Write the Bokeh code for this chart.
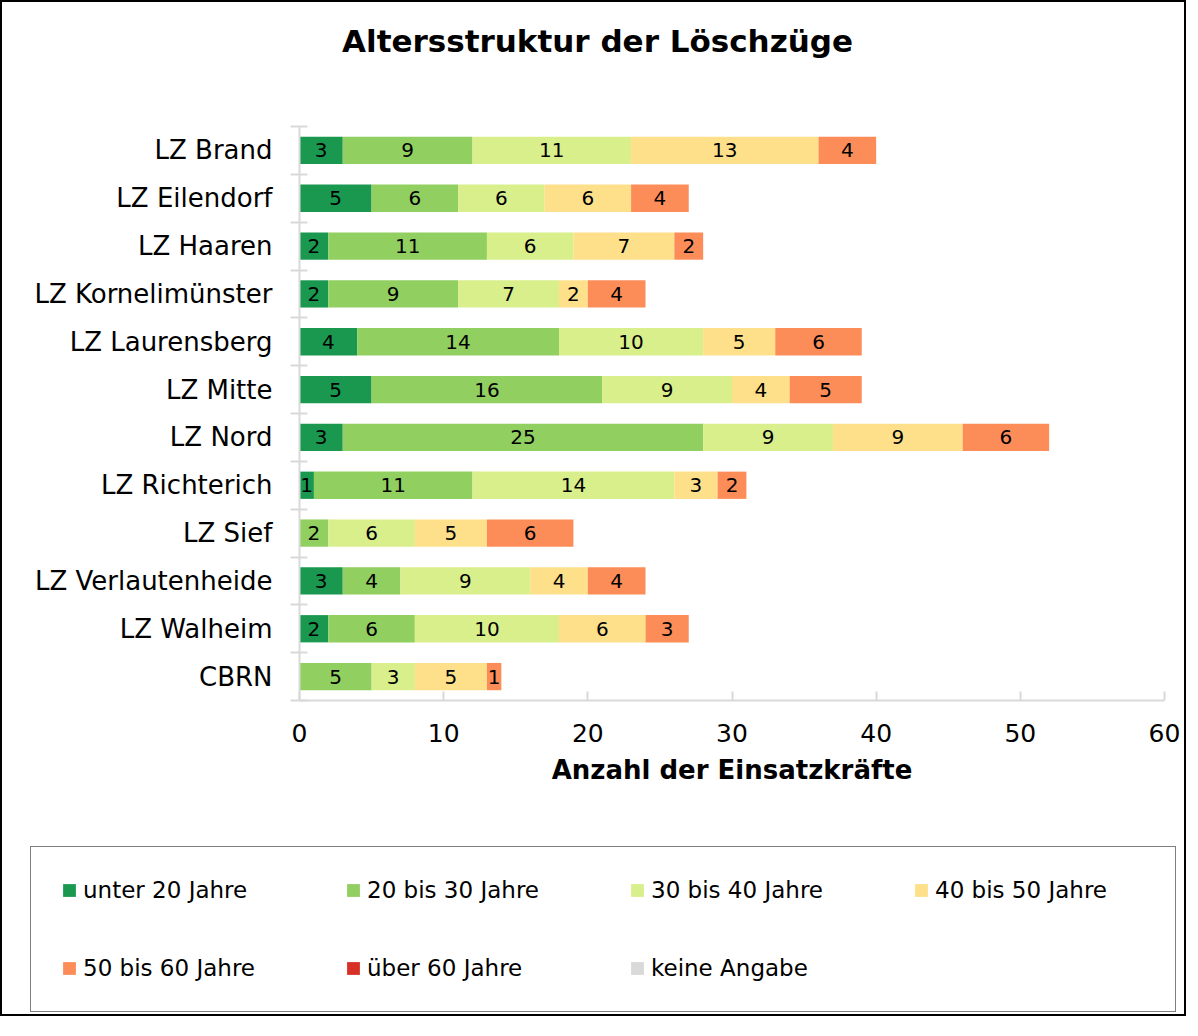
from bokeh.plotting import figure
from bokeh.models import Range1d, FixedTicker, Legend, LegendItem, ColumnDataSource, Label
from bokeh.core.properties import value
from bokeh.embed import file_html
from bokeh.resources import INLINE

# ---------------- data ----------------
title_text = "Altersstruktur der Löschzüge"
x_label = "Anzahl der Einsatzkräfte"
categories = ["LZ Brand", "LZ Eilendorf", "LZ Haaren", "LZ Kornelimünster",
              "LZ Laurensberg", "LZ Mitte", "LZ Nord", "LZ Richterich",
              "LZ Sief", "LZ Verlautenheide", "LZ Walheim", "CBRN"]
series_names = ["unter 20 Jahre", "20 bis 30 Jahre", "30 bis 40 Jahre",
                "40 bis 50 Jahre", "50 bis 60 Jahre", "über 60 Jahre", "keine Angabe"]
unter_20 = [3, 5, 2, 2, 4, 5, 3, 1, 0, 3, 2, 0]
j20_30 = [9, 6, 11, 9, 14, 16, 25, 11, 2, 4, 6, 5]
j30_40 = [11, 6, 6, 7, 10, 9, 9, 14, 6, 9, 10, 3]
j40_50 = [13, 6, 7, 2, 5, 4, 9, 3, 5, 4, 6, 5]
j50_60 = [4, 4, 2, 4, 6, 5, 6, 2, 6, 4, 3, 1]
ueber_60 = [0, 0, 0, 0, 0, 0, 0, 0, 0, 0, 0, 0]
keine_angabe = [0, 0, 0, 0, 0, 0, 0, 0, 0, 0, 0, 0]
series_values = [unter_20, j20_30, j30_40, j40_50, j50_60, ueber_60, keine_angabe]
colors = ["#1a9850", "#91cf60", "#d9ef8b", "#fee08b", "#fc8d59", "#d73027", "#d9d9d9"]
x_ticks = [0, 10, 20, 30, 40, 50, 60]
x_max = 60

FONT = "DejaVu Sans"
AXIS_GRAY = "#d9d9d9"

# ---------------- canvas layout (pixels) ----------------
W, H = 1186, 1016
PLOT_L, PLOT_R, PLOT_T, PLOT_B = 297, 1162, 124, 698   # visible bar area inside the canvas

n = len(categories)
ypos = list(range(n))

# the frame covers the whole canvas; data ranges are widened so the
# bar area lands at PLOT_L..PLOT_R / PLOT_T..PLOT_B
px_x = (PLOT_R - PLOT_L) / x_max
px_y = (PLOT_B - PLOT_T) / n
x_range = Range1d(-PLOT_L / px_x, x_max + (W - PLOT_R) / px_x)
y_range = Range1d(n - 0.5 + (H - PLOT_B) / px_y, -0.5 - PLOT_T / px_y)

p = figure(width=W, height=H, title=None, x_range=x_range, y_range=y_range,
           output_backend="svg", toolbar_location=None, min_border=0)
p.styles = {"border": "2px solid #000000"}
p.background_fill_color = "white"
p.border_fill_color = "white"
p.outline_line_color = None
p.xgrid.visible = False
p.ygrid.visible = False

# stacked bars
cum = [0] * n
renderers = []
lab_x, lab_y, lab_t = [], [], []
for name, vals, col in zip(series_names, series_values, colors):
    left = list(cum)
    right = [a + b for a, b in zip(cum, vals)]
    src = ColumnDataSource(dict(y=ypos, left=left, right=right))
    r = p.hbar(y="y", left="left", right="right", height=0.57, source=src,
               fill_color=col, line_color=None)
    renderers.append(r)
    for i, v in enumerate(vals):
        if v > 0:
            lab_x.append(left[i] + v / 2)
            lab_y.append(i)
            lab_t.append(str(v))
    cum = right

lsrc = ColumnDataSource(dict(x=lab_x, y=lab_y, t=lab_t))
p.text(x="x", y="y", text="t", source=lsrc, text_align="center",
       text_baseline="middle", text_font=value(FONT), text_font_size="20px",
       text_color="#000000")

# title
p.add_layout(Label(x=595, y=H - 38, x_units="screen", y_units="screen", text=title_text,
                   text_align="center", text_baseline="middle",
                   text_font=FONT, text_font_size="31px", text_font_style="bold",
                   text_color="#000000"))

# x axis (drawn at the bottom edge of the bar area)
xa = p.xaxis[0]
xa.fixed_location = n - 0.5
xa.bounds = (0, x_max)
xa.ticker = FixedTicker(ticks=x_ticks)
xa.axis_label = x_label
xa.axis_label_text_font = FONT
xa.axis_label_text_font_size = "26px"
xa.axis_label_text_font_style = "bold"
xa.axis_label_text_color = "#000000"
xa.axis_label_standoff = 10
xa.major_label_text_font = FONT
xa.major_label_text_font_size = "25px"
xa.major_label_text_color = "#000000"
xa.major_label_standoff = 23
xa.axis_line_color = AXIS_GRAY
xa.axis_line_width = 2
xa.major_tick_line_color = AXIS_GRAY
xa.major_tick_line_width = 2
xa.major_tick_in = 9
xa.major_tick_out = 0
xa.minor_tick_line_color = None

# y axis (drawn at x = 0)
ya = p.yaxis[0]
ya.fixed_location = 0
ya.bounds = (-0.5, n - 0.5)
ya.ticker = FixedTicker(ticks=ypos, minor_ticks=[i - 0.5 for i in range(n + 1)])
ya.major_label_overrides = {i: c for i, c in enumerate(categories)}
ya.major_label_text_font = FONT
ya.major_label_text_font_size = "26px"
ya.major_label_text_color = "#000000"
ya.major_label_standoff = 18
ya.axis_line_color = AXIS_GRAY
ya.axis_line_width = 2
ya.major_tick_line_color = None
ya.major_tick_in = 0
ya.major_tick_out = 0
ya.minor_tick_line_color = AXIS_GRAY
ya.minor_tick_line_width = 2
ya.minor_tick_in = 8
ya.minor_tick_out = 9

# legend (box at the bottom of the canvas)
legend = Legend(items=[LegendItem(label=nm, renderers=[r]) for nm, r in zip(series_names, renderers)],
                location=(28, 6), orientation="horizontal", ncols=4,
                label_text_font=FONT, label_text_font_size="23px", label_text_color="#000000",
                glyph_width=16, glyph_height=16, label_standoff=6,
                label_width=210, label_height=25, spacing=52, padding=30, margin=0,
                border_line_color="#000000", border_line_width=1.5,
                background_fill_color="white", background_fill_alpha=1.0)
p.add_layout(legend)

open("out.html", "w").write(file_html(p, INLINE))
